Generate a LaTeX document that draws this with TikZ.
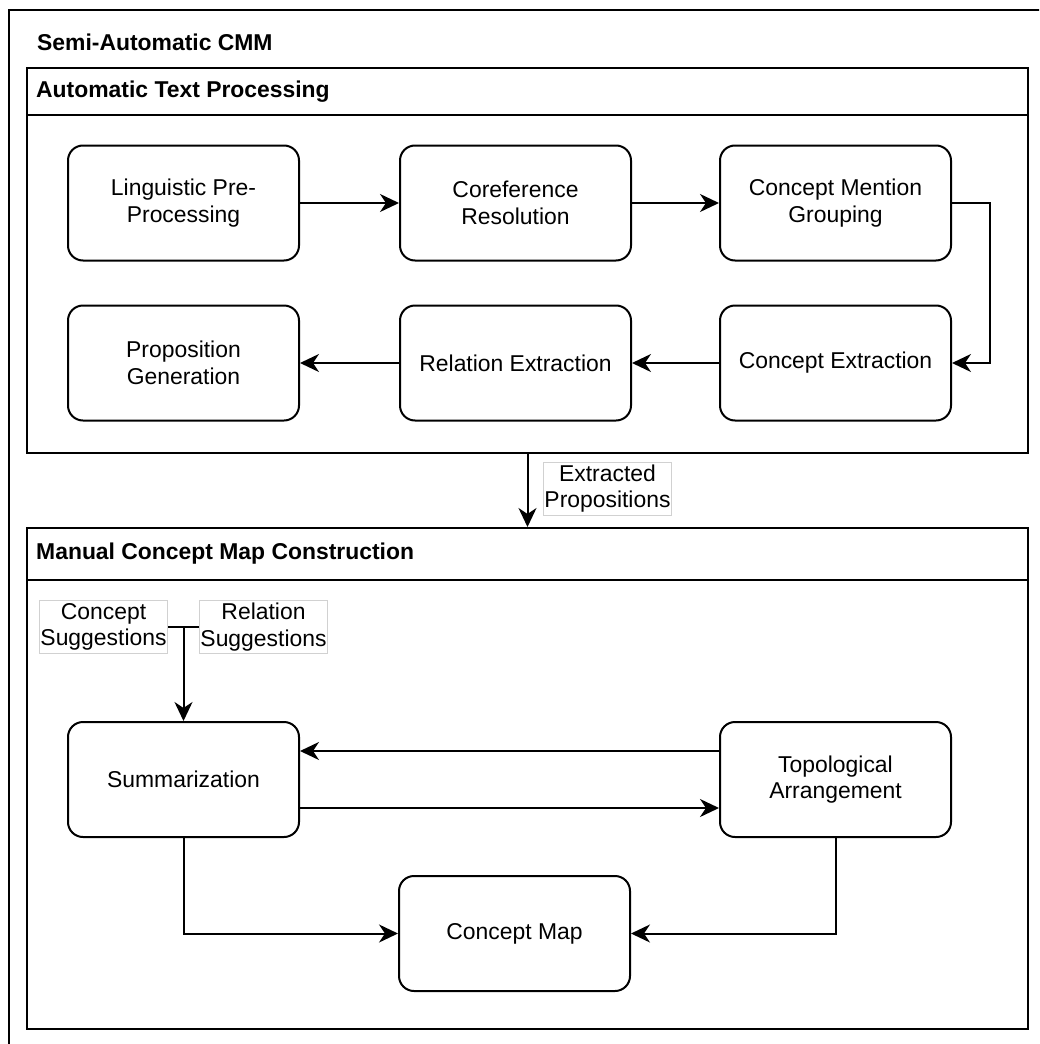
\documentclass[tikz,border=0pt]{standalone}
\usepackage{fontspec}
\setmainfont{Liberation Sans}
\usetikzlibrary{arrows.meta}
\newcommand\diagfont{\fontsize{22.9}{26.7}\selectfont}
\tikzset{
  proc/.style={draw, line width=2pt, rounded corners=15pt, fill=white,
    minimum width=231pt, minimum height=115pt, align=center,
    font=\diagfont, inner sep=2pt},
  container/.style={draw, line width=2pt, fill=white, inner sep=0pt},
  title/.style={anchor=west, inner sep=0pt, font=\diagfont\bfseries},
  tag/.style={draw=black!18, line width=1pt, fill=white, align=center,
    font=\diagfont, minimum width=127pt, minimum height=53pt, inner sep=1pt},
  arr/.style={line width=2pt, -{Stealth[length=19pt,width=18pt,inset=6pt]}},
  link/.style={line width=2pt}
}
\begin{document}
\begin{tikzpicture}[x=1pt,y=-1pt]
  \useasboundingbox (0,0) rectangle (1039,1044);
  \begin{scope}
    \clip (0,0) rectangle (1039,1044);
    % outer frame, running past the page edge on the right and bottom
    \draw[line width=2pt] (9,10) rectangle (1070,1070);
  \end{scope}
  \node[title] (maintitle) at (37,42) {Semi-Automatic CMM};

  % automatic text processing container
  \node[container, minimum width=1001pt, minimum height=385pt] (atp) at (527.5,260.5) {};
  \draw[line width=2pt] (atp.west |- 0,115) -- (atp.east |- 0,115);
  \node[title] (atptitle) at (36,92) {Automatic Text Processing};

  % manual construction container
  \node[container, minimum width=1001pt, minimum height=501pt] (mcm) at (527.5,778.5) {};
  \draw[line width=2pt] (mcm.west |- 0,580) -- (mcm.east |- 0,580);
  \node[title] (mcmtitle) at (36,554) {Manual Concept Map Construction};

  % pipeline steps
  \node[proc] (ling)  at (183.5,203) {Linguistic Pre-\\Processing};
  \node[proc] (coref) at (515.5,203) {Coreference\\Resolution};
  \node[proc] (cmg)   at (835.5,203) {Concept Mention\\Grouping};
  \node[proc] (prop)  at (183.5,363) {Proposition\\Generation};
  \node[proc] (rel)   at (515.5,363) {Relation Extraction};
  \node[proc] (ce)    at (835.5,363) {Concept Extraction};

  \draw[arr] (ling) -- (coref);
  \draw[arr] (coref) -- (cmg);
  \draw[arr] (cmg.east) -- ++(38,0) |- (ce.east);
  \draw[arr] (ce) -- (rel);
  \draw[arr] (rel) -- (prop);

  % hand-over between the two stages
  \draw[arr] (atp.south) -- (mcm.north);
  \node[tag] (extr) at (607.5,488.5) {Extracted\\Propositions};

  % manual steps
  \node[tag] (csug) at (103.5,627) {Concept\\Suggestions};
  \node[tag] (rsug) at (263.5,627) {Relation\\Suggestions};
  \node[proc] (summ) at (183.5,779.5) {Summarization};
  \node[proc] (topo) at (835.5,779.5) {Topological\\Arrangement};
  \node[proc] (cm)   at (514.5,933.5) {Concept Map};

  \coordinate (join) at (summ.north |- csug.east);
  \draw[link] (csug.east) -- (rsug.west);
  \draw[arr] (join) -- (summ.north);

  \draw[arr] (topo.west |- 0,751) -- (summ.east |- 0,751);
  \draw[arr] (summ.east |- 0,808) -- (topo.west |- 0,808);
  \draw[arr] (summ.south) |- (cm.west);
  \draw[arr] (topo.south) |- (cm.east);
\end{tikzpicture}
\end{document}
